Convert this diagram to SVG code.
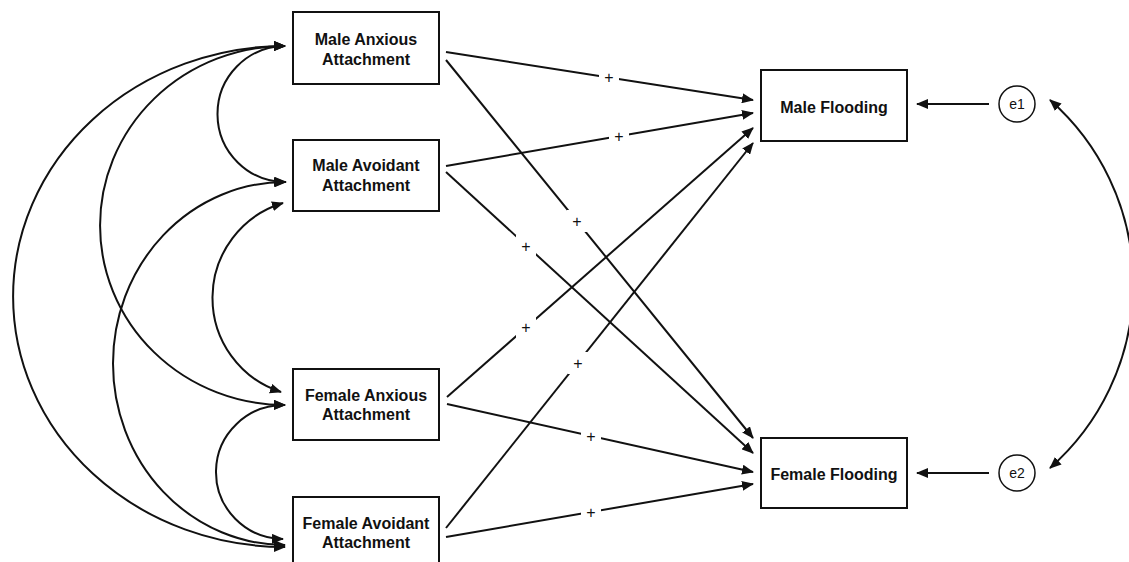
<svg xmlns="http://www.w3.org/2000/svg" width="1129" height="562" viewBox="0 0 1129 562">
  <style>
    .box { fill: #ffffff; stroke: #111111; stroke-width: 2; }
    .lbl { font-family: "Liberation Sans", Arial, sans-serif; font-size: 16px; font-weight: bold; fill: #111111; text-anchor: middle; }
    .err { fill: #ffffff; stroke: #111111; stroke-width: 1.5; }
    .errt { font-family: "Liberation Sans", Arial, sans-serif; font-size: 14px; fill: #111111; text-anchor: middle; }
    .edge { fill: none; stroke: #111111; stroke-width: 2; }
    .path { marker-end: url(#arrow); }
    .cov { marker-start: url(#arrow); marker-end: url(#arrow); }
    .sign rect { fill: #ffffff; }
    .sign text { font-family: "Liberation Sans", Arial, sans-serif; font-size: 16px; fill: #111111; text-anchor: middle; }
  </style>
  <defs>
    <marker id="arrow" viewBox="0 0 12 10" refX="11" refY="5" markerWidth="12" markerHeight="10" markerUnits="userSpaceOnUse" orient="auto-start-reverse">
      <path d="M0,0 L12,5 L0,10 z" fill="#111111"/>
    </marker>
  </defs>
  <rect width="1129" height="562" fill="#ffffff"/>

  <g id="connectors">
    <!-- covariances between predictors -->
    <path class="edge cov" d="M285,46 A68,68 0 0 0 286,182"/>
    <path class="edge cov" d="M285,46 A185,179.5 0 0 0 285,405"/>
    <path class="edge cov" d="M285,46 A272,250.5 0 0 0 285,547"/>
    <path class="edge cov" d="M283,203 A99,99 0 0 0 281,392"/>
    <path class="edge cov" d="M285,182 A172,181.5 0 0 0 285,545"/>
    <path class="edge cov" d="M285,405 A68,67 0 0 0 283,539"/>
    <!-- residual covariance -->
    <path class="edge cov" d="M1050,100 A245,245 0 0 1 1050,468"/>
    <!-- residual paths -->
    <line class="edge path" x1="989" y1="104" x2="917" y2="104"/>
    <line class="edge path" x1="989" y1="473" x2="917" y2="473"/>
    <!-- regression paths -->
    <line class="edge path" x1="446" y1="52" x2="753" y2="100"/>
    <line class="edge path" x1="446" y1="60" x2="753" y2="438"/>
    <line class="edge path" x1="446" y1="166" x2="753" y2="113"/>
    <line class="edge path" x1="446" y1="172" x2="753" y2="453"/>
    <line class="edge path" x1="447" y1="397" x2="753" y2="128"/>
    <line class="edge path" x1="447" y1="404" x2="753" y2="472"/>
    <line class="edge path" x1="446" y1="528" x2="753" y2="143"/>
    <line class="edge path" x1="446" y1="537" x2="753" y2="484"/>
    <!-- path signs -->
    <g class="sign">
      <rect x="599" y="66.5" width="20" height="22"/><text x="609" y="83.1">+</text>
      <rect x="567" y="210" width="20" height="22"/><text x="577" y="226.6">+</text>
      <rect x="609" y="125" width="20" height="22"/><text x="619" y="141.6">+</text>
      <rect x="516" y="235" width="20" height="22"/><text x="526" y="251.6">+</text>
      <rect x="516" y="316.5" width="20" height="22"/><text x="526" y="333.1">+</text>
      <rect x="581" y="425" width="20" height="22"/><text x="591" y="441.6">+</text>
      <rect x="568" y="352" width="20" height="22"/><text x="578" y="368.6">+</text>
      <rect x="581" y="501" width="20" height="22"/><text x="591" y="517.6">+</text>
    </g>
  </g>

  <g id="male-anxious">
    <rect class="box" x="293" y="12" width="146" height="72"/>
    <text class="lbl" x="366" y="44.7">Male Anxious</text>
    <text class="lbl" x="366" y="64.5">Attachment</text>
  </g>
  <g id="male-avoidant">
    <rect class="box" x="293" y="140" width="146" height="71"/>
    <text class="lbl" x="366" y="171.2">Male Avoidant</text>
    <text class="lbl" x="366" y="191">Attachment</text>
  </g>
  <g id="female-anxious">
    <rect class="box" x="293" y="369" width="146" height="71"/>
    <text class="lbl" x="366" y="400.5">Female Anxious</text>
    <text class="lbl" x="366" y="420.2">Attachment</text>
  </g>
  <g id="female-avoidant">
    <rect class="box" x="293" y="497" width="146" height="72"/>
    <text class="lbl" x="366" y="528.5">Female Avoidant</text>
    <text class="lbl" x="366" y="548">Attachment</text>
  </g>
  <g id="male-flooding">
    <rect class="box" x="761" y="70" width="146" height="71"/>
    <text class="lbl" x="834" y="112.6">Male Flooding</text>
  </g>
  <g id="female-flooding">
    <rect class="box" x="761" y="438" width="146" height="70"/>
    <text class="lbl" x="834" y="479.6">Female Flooding</text>
  </g>
  <g id="e1">
    <circle class="err" cx="1017" cy="104" r="18"/>
    <text class="errt" x="1017" y="109">e1</text>
  </g>
  <g id="e2">
    <circle class="err" cx="1017" cy="473" r="18"/>
    <text class="errt" x="1017" y="478">e2</text>
  </g>
</svg>
